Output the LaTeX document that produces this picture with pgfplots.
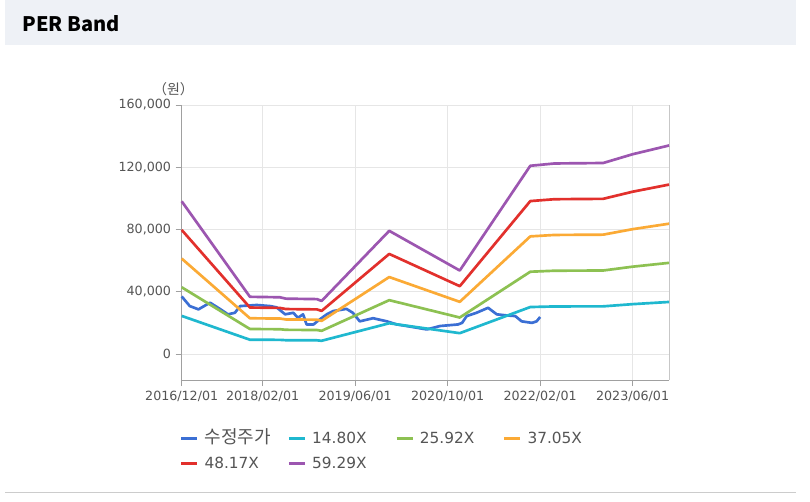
\documentclass[border=0pt]{standalone}
\usepackage{pgfplots}
\usepackage{pgfplotstable}
\pgfplotsset{compat=1.18}
\usepackage{fontspec}
\setmainfont{DejaVu Sans}
\newfontfamily\kr{Noto Sans CJK KR}

\definecolor{hdr}{HTML}{EEF1F6}
\definecolor{txtgray}{HTML}{555555}
\definecolor{gridgray}{HTML}{E6E6E6}
\definecolor{axgray}{HTML}{A0A0A0}
\definecolor{cPrice}{HTML}{3B6FD4}
\definecolor{cA}{HTML}{1FB8CF}
\definecolor{cB}{HTML}{8DC152}
\definecolor{cC}{HTML}{FBAA35}
\definecolor{cD}{HTML}{E2302C}
\definecolor{cE}{HTML}{9C56B0}

% months since 2016/12/01; band values = EPS x multiple
\pgfplotstableread{
m     c     g     o     r      p
0     24494 42898 61318 79721  98125
11.8  9176  16070 22971 29865  36760
17.0  9102  15941 22786 29625  36463
18.0  8880  15552 22230 28902  35574
23.4  8806  15422 22045 28661  35278
24.2  8510  14904 21304 27698  34092
35.9  19758 34603 49462 64307  79152
48.1  13394 23458 33530 43594  53657
60.3  30192 52877 75582 98267  120952
64.5  30562 53525 76508 99471  122434
72.9  30636 53654 76694 99712  122730
78.0  32042 56117 80213 104288 128363
84.3  33448 58579 83733 108864 133995
}\bands

\begin{document}
\begin{tikzpicture}
\fill[white] (0pt,0pt) rectangle (607.5pt,-375.75pt);
\fill[hdr] (3.75pt,0pt) rectangle (597pt,-33.75pt);
\node[anchor=west, inner sep=0pt] at (16.5pt,-18pt) {\fontsize{15}{18}\selectfont\kr\bfseries PER Band};
\draw[color=black!20, line width=0.75pt] (3.75pt,-369pt) -- (597pt,-369pt);
\node[text=txtgray, inner sep=0pt] at (130.1pt,-66.75pt) {\fontsize{10.5}{12}\selectfont\kr （원）};

\begin{axis}[
    at={(136.275pt,-285pt)}, anchor=south west,
    scale only axis,
    width=365.5pt, height=206.25pt,
    xmin=0, xmax=84.3,
    ymin=-16700, ymax=160000,
    clip=false,
    axis line style={draw=none},
    tick align=outside, tick pos=left,
    major tick length=4.5pt,
    tick style={color=axgray, line width=0.75pt},
    grid=major,
    major grid style={color=gridgray, line width=0.75pt},
    xtick={0,14,30,46,62,78},
    xticklabels={2016/12/01,2018/02/01,2019/06/01,2020/10/01,2022/02/01,2023/06/01},
    ytick={0,40000,80000,120000,160000},
    scaled y ticks=false,
    yticklabel={\pgfmathprintnumber[fixed,1000 sep={,}]{\tick}},
    tick label style={font=\fontsize{9.5}{11}\selectfont, text=txtgray},
    /pgf/number format/assume math mode=true,
    legend columns=4,
    legend cell align=left,
    legend style={draw=none, fill=none, at={(-0.0125,-0.176)}, anchor=north west,
        nodes={inner sep=0pt, text height=9pt, text depth=2pt},
        row sep=7.75pt, font=\fontsize{11.5}{13}\selectfont, text=txtgray},
    legend image code/.code={\draw[#1, line width=2pt] (0pt,0pt) -- (12pt,0pt);},
    every axis plot/.append style={line width=2pt, line join=round, no markers},
]
\draw[axgray, line width=0.75pt] (rel axis cs:0,1) -- (rel axis cs:0,0) -- (rel axis cs:1,0);
\draw[black!22, line width=0.75pt] (rel axis cs:1,0) -- (rel axis cs:1,1);

\addplot[cPrice] coordinates {
(0,37000)(1.4,30800)(2.9,28700)(4.9,33000)(6.6,29000)(8.0,25500)(9.2,26500)
(10.1,30800)(13.0,31500)(15.3,30800)(16.4,30000)(17.9,25500)(19.3,26500)
(20.1,23300)(21.0,25500)(21.6,19000)(22.8,19000)(23.9,22300)(25.1,25500)
(26.2,27600)(28.5,29000)(29.6,26500)(30.8,21000)(33.1,23000)(35.5,21000)
(37.2,19000)(38.9,18000)(42.4,15800)(44.7,18000)(47.8,19000)(48.5,20000)
(49.3,24400)(51.0,26500)(53.0,29700)(54.5,25500)(56.2,24800)(57.7,24400)
(58.8,21000)(60.6,20000)(61.4,21000)(62.0,23800)
};
\addlegendentry{\hspace{4.5pt}\makebox[62.25pt][l]{\kr\fontsize{13.5}{13.5}\selectfont 수정주가}}
\addplot[cA] table[x=m, y=c] {\bands};
\addlegendentry{\hspace{4.5pt}\makebox[62.25pt][l]{14.80X}}
\addplot[cB] table[x=m, y=g] {\bands};
\addlegendentry{\hspace{4.5pt}\makebox[62.25pt][l]{25.92X}}
\addplot[cC] table[x=m, y=o] {\bands};
\addlegendentry{\hspace{4.5pt}\makebox[62.25pt][l]{37.05X}}
\addplot[cD] table[x=m, y=r] {\bands};
\addlegendentry{\hspace{4.5pt}\makebox[62.25pt][l]{48.17X}}
\addplot[cE] table[x=m, y=p] {\bands};
\addlegendentry{\hspace{4.5pt}\makebox[62.25pt][l]{59.29X}}
\end{axis}
\end{tikzpicture}
\end{document}
